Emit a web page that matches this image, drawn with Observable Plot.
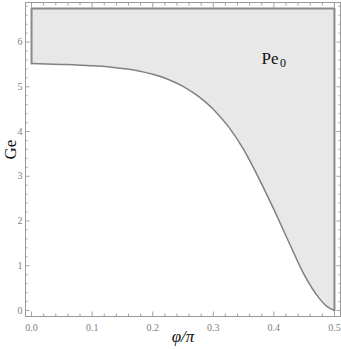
<!DOCTYPE html>
<html>
<head>
<meta charset="utf-8">
<script src="https://cdn.jsdelivr.net/npm/d3@7"></script>
<script src="https://cdn.jsdelivr.net/npm/@observablehq/plot@0.6"></script>
<style>
  html, body { margin: 0; padding: 0; background: #fff; }
  #chart svg { display: block; }
</style>
</head>
<body>
<div id="chart"></div>
<script>
// Curve Ge(φ/π)
const phi = [0, 0.025, 0.05, 0.075, 0.1, 0.125, 0.15, 0.175, 0.2, 0.225, 0.25, 0.275, 0.3, 0.325, 0.35, 0.375, 0.4, 0.425, 0.45, 0.475, 0.4875, 0.5];
const ge  = [5.52, 5.51, 5.50, 5.49, 5.47, 5.45, 5.41, 5.36, 5.28, 5.17, 5.01, 4.79, 4.50, 4.11, 3.60, 2.96, 2.26, 1.52, 0.80, 0.27, 0.09, 0];
const topGe = 6.75;
const labelMain = "Pe";
const labelSub = "0";
const labelPos = {phi: 0.3796, ge: 5.515};

const xMajor = [0, 0.1, 0.2, 0.3, 0.4, 0.5];
const xMinor = d3.range(0, 0.5001, 0.02).filter(v => !xMajor.some(m => Math.abs(m - v) < 1e-9));
const yMajor = [0, 1, 2, 3, 4, 5, 6];
const yMinor = d3.range(0, 6.801, 0.2).filter(v => Math.abs(v - Math.round(v)) > 1e-9);

const curve = phi.map((p, i) => ({p, g: ge[i]}));
const boundary = [
  {p: phi[0], g: ge[0]},
  {p: phi[0], g: topGe},
  {p: phi[phi.length - 1], g: topGe},
  {p: phi[phi.length - 1], g: ge[ge.length - 1]}
];

const grey = "#9a9a9a";
const tickGrey = "#a0a0a0";
const font = "'Liberation Serif', 'DejaVu Serif', serif";

const chart = Plot.plot({
  width: 341,
  height: 349,
  marginLeft: 25,
  marginRight: 1,
  marginTop: 2,
  marginBottom: 33,
  style: {fontFamily: font, background: "#fff"},
  x: {domain: [-0.01, 0.51], label: null},
  y: {domain: [-0.135, 6.885], label: null},
  marks: [
    Plot.areaY(curve, {x: "p", y1: "g", y2: () => topGe, fill: "#e8e8e8", curve: "monotone-x"}),
    Plot.line(boundary, {x: "p", y: "g", stroke: "#8a8a8a", strokeWidth: 2}),
    Plot.line(curve, {x: "p", y: "g", stroke: "#808080", strokeWidth: 1.5, curve: "monotone-x"}),
    Plot.frame({stroke: grey, strokeWidth: 1}),
    // inward ticks on all four sides
    Plot.axisX(xMajor, {anchor: "bottom", tickSize: -4.5, tickFormat: () => "", stroke: tickGrey}),
    Plot.axisX(xMinor, {anchor: "bottom", tickSize: -2.5, tickFormat: () => "", stroke: tickGrey}),
    Plot.axisX(xMajor, {anchor: "top", tickSize: -4.5, tickFormat: () => "", stroke: tickGrey}),
    Plot.axisX(xMinor, {anchor: "top", tickSize: -2.5, tickFormat: () => "", stroke: tickGrey}),
    Plot.axisY(yMajor, {anchor: "left", tickSize: -4.5, tickFormat: () => "", stroke: tickGrey}),
    Plot.axisY(yMinor, {anchor: "left", tickSize: -2.5, tickFormat: () => "", stroke: tickGrey}),
    Plot.axisY(yMajor, {anchor: "right", tickSize: -4.5, tickFormat: () => "", stroke: tickGrey}),
    Plot.axisY(yMinor, {anchor: "right", tickSize: -2.5, tickFormat: () => "", stroke: tickGrey}),
    // tick labels
    Plot.axisX(xMajor, {anchor: "bottom", tickSize: 0, tickPadding: 7, tickFormat: d3.format(".1f"), fill: "#808080", fontSize: 10, label: null}),
    Plot.axisY(yMajor, {anchor: "left", tickSize: 0, tickPadding: 3, tickFormat: d3.format("d"), fill: "#808080", fontSize: 10, label: null}),
    // axis titles
    Plot.text(["φ/π"], {frameAnchor: "bottom", dy: 25, text: d => d, fontSize: 17, fontStyle: "italic", fill: "#111"}),
    Plot.text(["Ge"], {frameAnchor: "left", dx: -15, rotate: -90, text: d => d, fontSize: 17, fill: "#111"}),
    // region label Pe₀
    Plot.text([labelPos], {x: "phi", y: "ge", text: () => labelMain, fontSize: 17, fill: "#111", textAnchor: "start", lineAnchor: "bottom"}),
    Plot.text([labelPos], {x: "phi", y: "ge", text: () => labelSub, fontSize: 12, fill: "#111", textAnchor: "start", lineAnchor: "bottom", dx: 18.5, dy: 3})
  ]
});
document.getElementById("chart").appendChild(chart);
</script>
</body>
</html>
